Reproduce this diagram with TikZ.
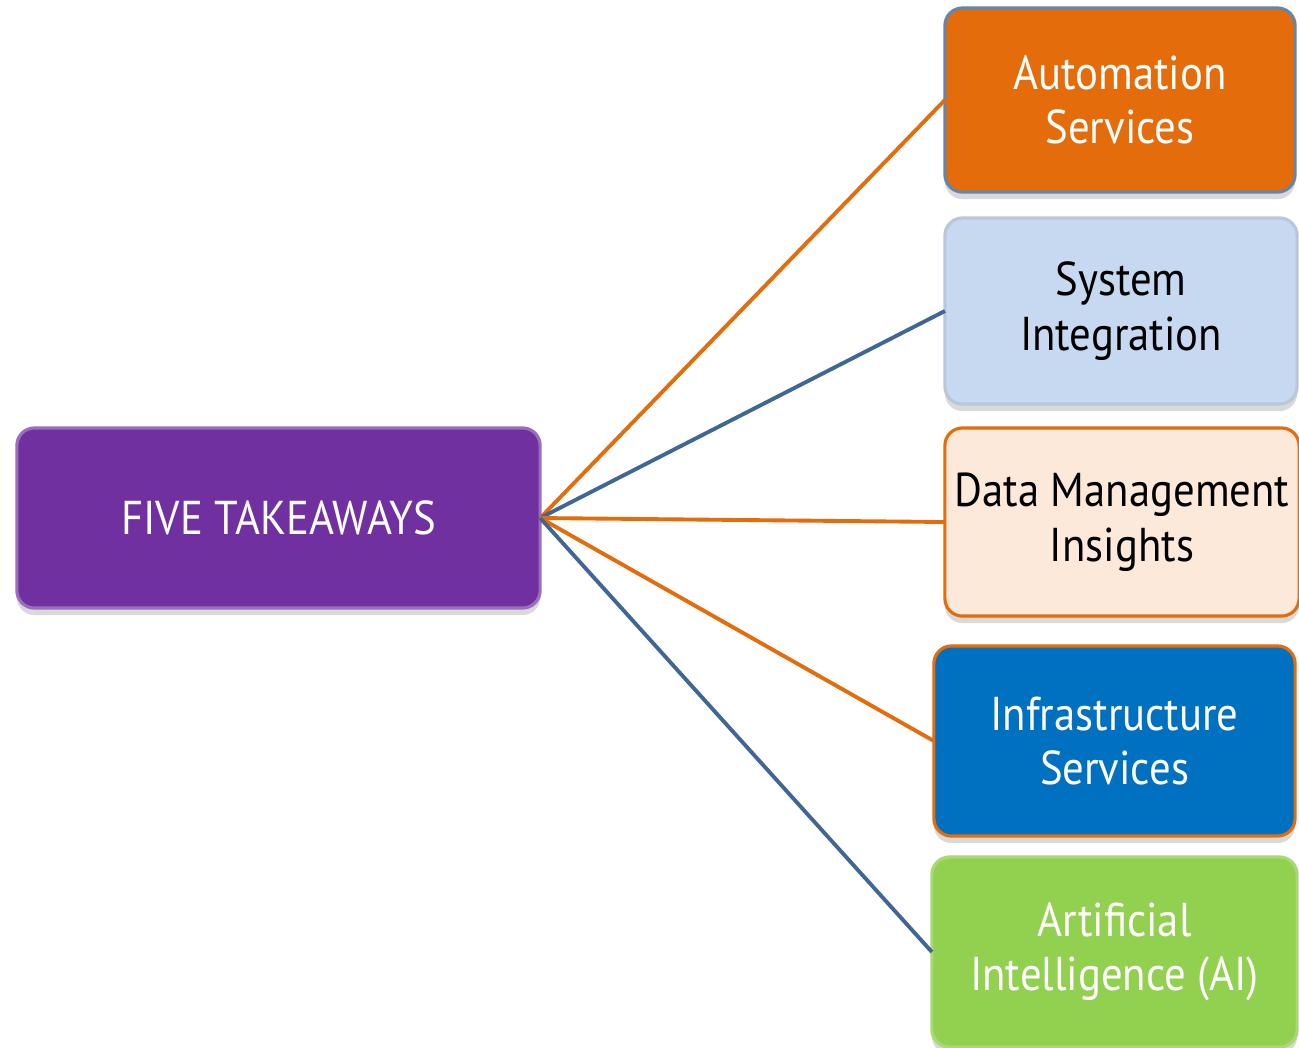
\documentclass[tikz,border=0pt]{standalone}
\usepackage{fontspec}
\setmainfont[FakeStretch=0.9]{PT Sans}
\usetikzlibrary{shadows}

\definecolor{hubpurple}{HTML}{7030A0}
\definecolor{autoorange}{HTML}{E46C0A}
\definecolor{syslight}{HTML}{C6D9F1}
\definecolor{datapeach}{HTML}{FDE9D9}
\definecolor{infrablue}{HTML}{0070C0}
\definecolor{aigreen}{HTML}{92D050}
\definecolor{linkorange}{HTML}{E46C0A}
\definecolor{linkblue}{HTML}{3F6696}

\tikzset{
  box/.style={draw, line width=0.9pt, rounded corners=5pt, inner sep=0pt, outer sep=0pt,
    align=center, font=\fontsize{13.5}{15.5}\selectfont,
    drop shadow={opacity=0.3, shadow xshift=0pt, shadow yshift=-2pt}},
  link/.style={line width=1.1pt}
}

\begin{document}
\begin{tikzpicture}[x=0.01cm, y=-0.01cm]
    \useasboundingbox (0,0) rectangle (1299,1047);

    % hub box
    \node[box, fill=hubpurple, draw=hubpurple!70!white, text=white,
          minimum width=5.23cm, minimum height=1.8cm] (hub) at (278.5,518) {FIVE TAKEAWAYS};

    % the five takeaways
    \node[box, fill=autoorange, draw=linkblue!80!white, text=white,
          minimum width=3.5cm, minimum height=1.84cm] (auto) at (1120,100) {Automation\\Services};
    \node[box, fill=syslight, draw=syslight!80!gray, text=black,
          minimum width=3.52cm, minimum height=1.86cm] (sys) at (1121,311) {System\\Integration};
    \node[box, fill=datapeach, draw=linkorange, text=black,
          minimum width=3.54cm, minimum height=1.88cm] (data) at (1122,522) {Data Management\\Insights};
    \node[box, fill=infrablue, draw=linkorange, text=white,
          minimum width=3.61cm, minimum height=1.9cm] (infra) at (1114.5,741) {Infrastructure\\Services};
    \node[box, fill=aigreen, draw=aigreen!80!white, text=white,
          minimum width=3.65cm, minimum height=1.9cm] (ai) at (1114.5,952) {Artificial\\Intelligence (AI)};

    % connectors
    \draw[link, linkorange] (hub.east) -- (auto.west);
    \draw[link, linkblue] (hub.east) -- (sys.west);
    \draw[link, linkorange] (hub.east) -- (data.west);
    \draw[link, linkorange] (hub.east) -- (infra.west);
    \draw[link, linkblue] (hub.east) -- (ai.west);

\end{tikzpicture}
\end{document}
